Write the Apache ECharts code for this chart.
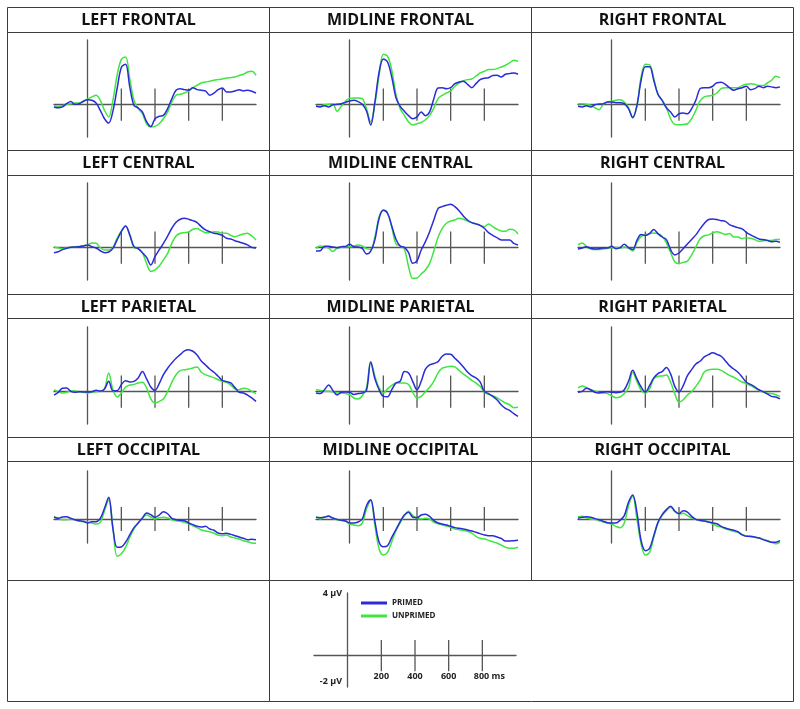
<!DOCTYPE html>
<html><head><meta charset="utf-8">
<script src="https://cdn.jsdelivr.net/npm/echarts@6/dist/echarts.min.js"></script>
<style>html,body{margin:0;padding:0;background:#fff}#c{width:800px;height:709px}</style>
</head><body><div id="c"></div><script>
const times = [-200,-175,-150,-125,-100,-75,-50,-25,0,25,50,75,100,125,150,175,200,225,250,275,300,325,350,375,400,425,450,475,500,525,550,575,600,625,650,675,700,725,750,775,800,825,850,875,900,925,950,975,1000];
const tickTimes = [200,400,600,800];
const timeLabels = ['200','400','600','800 ms'];
const scaleLabels = ['4 µV','-2 µV'];
const seriesNames = ['PRIMED','UNPRIMED'];
const panelTitles = ['LEFT FRONTAL','MIDLINE FRONTAL','RIGHT FRONTAL','LEFT CENTRAL','MIDLINE CENTRAL','RIGHT CENTRAL','LEFT PARIETAL','MIDLINE PARIETAL','RIGHT PARIETAL','LEFT OCCIPITAL','MIDLINE OCCIPITAL','RIGHT OCCIPITAL'];

const leftFrontalPrimed = [-0.14,-0.19,-0.14,0.06,0.19,0.02,0.06,0.21,0.31,0.27,0.1,-0.35,-0.87,-1.14,-0.4,1.0,2.3,2.5,1.1,-0.05,-0.2,-0.45,-1.05,-1.35,-0.87,-0.72,-0.66,-0.25,0.37,0.89,0.99,0.93,0.89,1.05,0.93,0.89,0.85,0.58,0.72,0.93,1.03,0.79,0.79,0.85,0.93,0.85,0.89,0.83,0.72];
const leftFrontalUnprimed = [-0.06,-0.1,-0.06,0.02,0.06,0.1,0.1,0.21,0.35,0.48,0.58,0.27,-0.35,-0.76,0.27,1.82,2.8,2.95,1.61,0.27,-0.25,-0.56,-1.18,-1.38,-1.34,-1.18,-0.87,-0.45,0.17,0.58,0.64,0.72,0.85,1.05,1.2,1.34,1.4,1.45,1.51,1.55,1.59,1.65,1.67,1.71,1.8,1.88,2.02,2.07,1.82];
const midlineFrontalPrimed = [-0.1,-0.14,-0.06,-0.14,0,0.02,0.06,0.14,0.23,0.27,0.19,0.02,-0.39,-1.26,0.17,2.02,2.83,2.64,1.71,0.43,-0.1,-0.41,-0.68,-0.87,-0.76,-0.45,-0.68,-0.45,0.37,1.03,1.05,0.99,1.05,1.3,1.4,1.45,1.26,1.05,1.3,1.55,1.63,1.67,1.8,1.82,1.71,1.88,1.92,1.96,1.88];
const midlineFrontalUnprimed = [-0.04,-0.1,0,0.02,0.06,-0.41,-0.1,0.23,0.39,0.41,0.41,0.37,-0.25,-1.07,0.06,1.82,3.12,3.0,2.13,0.64,-0.25,-0.66,-1.07,-1.26,-1.18,-1.1,-0.93,-0.66,-0.21,0.37,0.58,0.72,0.85,1.14,1.34,1.47,1.55,1.59,1.76,1.96,2.07,2.17,2.17,2.23,2.33,2.44,2.58,2.75,2.69];
const rightFrontalPrimed = [-0.1,-0.14,-0.06,-0.14,0,0.04,0.06,0.17,0.17,0.12,0.12,0.06,-0.25,-0.81,-0.04,1.51,2.35,2.35,1.51,0.64,0.27,-0.19,-0.45,-0.76,-0.56,-0.52,-0.56,-0.25,0.27,0.99,1.05,1.05,1.14,1.36,1.38,1.26,1.05,0.89,0.99,1.05,1.14,0.93,0.99,1.14,1.05,1.14,1.1,1.05,1.1];
const rightFrontalUnprimed = [0.06,0.06,0.02,-0.04,-0.19,-0.31,0.02,0.17,0.21,0.27,0.31,0.17,-0.19,-0.76,-0.1,1.71,2.5,2.48,1.61,0.64,0.27,-0.19,-0.87,-1.22,-1.24,-1.22,-1.18,-0.87,-0.35,0.23,0.48,0.54,0.58,0.72,0.99,1.05,1.05,1.05,1.05,1.18,1.26,1.3,1.26,1.18,1.18,1.34,1.51,1.76,1.67];
const leftCentralPrimed = [-0.31,-0.25,-0.12,-0.04,0.02,0.04,0.06,0.1,0.17,0.06,-0.02,-0.19,-0.31,-0.27,-0.04,0.48,0.99,1.34,0.79,0.06,-0.06,-0.31,-0.6,-1.07,-0.56,-0.14,0.27,0.72,1.2,1.57,1.76,1.82,1.76,1.67,1.55,1.3,1.1,0.99,0.89,0.85,0.76,0.58,0.54,0.43,0.35,0.27,0.17,0.02,-0.02];
const leftCentralUnprimed = [0.06,-0.02,-0.06,-0.02,0.02,0.06,0.08,0.12,0.17,0.29,0.27,0,-0.14,-0.14,0.02,0.58,1.03,1.34,0.79,0.02,-0.06,-0.31,-0.97,-1.47,-1.38,-1.14,-0.76,-0.35,0.27,0.72,0.89,0.93,0.97,1.14,1.18,1.05,0.93,0.93,0.99,0.97,0.89,0.89,0.76,0.68,0.76,0.85,0.89,0.72,0.48];
const midlineCentralPrimed = [-0.21,-0.19,0.08,0.08,0.04,0,0.06,0.08,0.21,0.06,0.04,-0.04,-0.39,-0.21,0.5,1.82,2.31,2.13,1.34,0.52,0.1,0.02,-0.31,-0.97,-0.81,-0.14,0.37,0.99,1.71,2.42,2.54,2.62,2.69,2.54,2.29,1.96,1.71,1.55,1.47,1.38,1.2,0.93,0.76,0.62,0.48,0.48,0.48,0.27,0.17];
const midlineCentralUnprimed = [-0.04,0.1,0.06,-0.02,-0.23,-0.04,0.02,0.06,0.06,0.1,0.17,0.1,-0.06,-0.1,0.68,1.92,2.33,2.13,1.26,0.23,0.1,-0.08,-1.18,-1.9,-1.88,-1.63,-1.38,-0.97,-0.21,0.64,1.2,1.51,1.65,1.71,1.82,1.76,1.65,1.55,1.47,1.38,1.3,1.47,1.3,1.14,1.03,1.01,1.14,1.1,0.85];
const rightCentralPrimed = [-0.08,-0.02,0.06,-0.04,-0.08,-0.06,-0.02,-0.02,0.08,-0.06,0,0.21,0,-0.12,0.45,0.81,0.76,0.87,1.12,0.87,0.66,0.5,-0.12,-0.45,-0.33,-0.06,0.23,0.5,0.79,1.16,1.49,1.74,1.78,1.74,1.67,1.63,1.43,1.32,1.24,1.16,0.95,0.79,0.66,0.54,0.5,0.45,0.37,0.39,0.33];
const rightCentralUnprimed = [0.19,0.29,0.08,-0.08,-0.12,-0.12,-0.08,-0.04,0,0.02,-0.04,0.04,-0.04,-0.21,0.33,0.7,0.79,0.87,0.91,0.85,0.7,0.29,-0.29,-0.87,-0.99,-0.91,-0.83,-0.45,0.04,0.54,0.74,0.79,0.91,0.99,0.91,0.81,0.87,0.66,0.66,0.56,0.62,0.58,0.5,0.39,0.43,0.45,0.45,0.5,0.5];
const leftParietalPrimed = [-0.21,-0.04,0.21,0.23,0.02,-0.04,0,-0.02,-0.02,0,0.08,0.04,0.17,0.64,0.06,0.06,0.43,0.68,0.6,0.64,0.85,1.24,0.79,0.29,0.08,0.5,1.05,1.45,1.78,2.07,2.29,2.52,2.6,2.5,2.27,1.9,1.65,1.4,1.2,0.95,0.7,0.62,0.54,0.25,-0.04,-0.08,-0.21,-0.39,-0.6];
const leftParietalUnprimed = [0.12,0,-0.08,-0.04,0.06,0.04,0,-0.04,-0.08,-0.04,0,0.02,0.17,1.16,0.12,-0.33,-0.08,0.29,0.41,0.45,0.54,0.58,0.23,-0.45,-0.7,-0.6,-0.45,0,0.58,1.05,1.3,1.36,1.4,1.47,1.53,1.2,1.05,0.95,0.87,0.74,0.64,0.58,0.41,0.17,0.12,0.21,0.17,0.02,-0.12];
const midlineParietalPrimed = [-0.08,-0.12,0.12,0.41,0.08,-0.21,-0.04,-0.02,-0.04,-0.17,-0.12,-0.08,0.08,1.82,0.79,0.12,-0.29,-0.31,0.12,0.54,0.64,1.24,1.16,0.62,0.12,0.64,1.4,1.65,1.74,1.86,2.19,2.33,2.31,2.07,1.82,1.53,1.22,0.99,0.85,0.6,0.02,-0.12,-0.29,-0.5,-0.81,-1.03,-1.16,-1.36,-1.53];
const midlineParietalUnprimed = [0.12,0.08,0.02,0.02,0,-0.08,-0.08,-0.12,-0.19,-0.39,-0.45,-0.25,0.23,1.86,0.95,0.23,-0.08,0.17,0.39,0.54,0.54,0.54,0.45,-0.04,-0.39,-0.29,0,0.27,0.64,1.16,1.45,1.53,1.57,1.53,1.32,1.1,0.91,0.7,0.54,0.33,-0.02,-0.17,-0.25,-0.37,-0.54,-0.7,-0.81,-0.99,-0.97];
const rightParietalPrimed = [-0.04,0.02,0.21,0.12,-0.04,-0.08,-0.04,0,-0.04,-0.06,-0.04,0.12,0.64,1.32,0.79,0.29,-0.02,0.37,0.85,1.12,1.24,1.49,1.1,0.33,-0.02,0.37,0.99,1.36,1.71,1.88,2.15,2.29,2.4,2.31,2.19,1.92,1.61,1.4,1.2,0.91,0.58,0.45,0.29,0.12,0,-0.14,-0.29,-0.33,-0.45];
const rightParietalUnprimed = [0.23,0.35,0.25,0.12,0.04,-0.06,-0.08,-0.12,-0.25,-0.37,-0.33,-0.12,0.23,1.2,0.64,0.08,-0.08,0.17,0.79,0.95,0.97,1.03,0.58,-0.12,-0.66,-0.5,-0.21,0,0.33,0.7,1.22,1.36,1.38,1.38,1.32,1.16,1.01,0.89,0.74,0.6,0.5,0.37,0.23,0.08,-0.02,-0.08,-0.12,-0.19,-0.29];
const leftOccipitalPrimed = [0.14,0.06,0.17,0.19,0.06,-0.06,-0.14,-0.19,-0.33,-0.22,-0.22,0.06,0.89,1.81,-0.8,-2.36,-2.33,-1.94,-1.33,-0.72,-0.33,0.08,0.5,0.36,0.14,0.33,0.61,0.44,0.06,-0.06,-0.11,-0.14,-0.33,-0.47,-0.61,-0.67,-0.61,-0.83,-0.94,-1.17,-1.22,-1.19,-1.28,-1.39,-1.5,-1.61,-1.72,-1.69,-1.72];
const leftOccipitalUnprimed = [0.22,0.06,-0.06,-0.06,0,-0.08,-0.17,-0.22,-0.28,-0.33,-0.42,-0.28,0.69,1.61,-0.7,-3.1,-2.9,-2.36,-1.53,-0.83,-0.33,0.06,0.33,0.17,0,0.11,0.14,0.08,-0.06,-0.14,-0.19,-0.28,-0.39,-0.56,-0.72,-0.92,-1,-1.06,-1.19,-1.33,-1.39,-1.33,-1.5,-1.58,-1.67,-1.81,-1.89,-2,-2.03];
const midlineOccipitalPrimed = [0.14,0.11,0.14,0.22,0.08,-0.03,-0.11,-0.17,-0.33,-0.33,-0.25,0,1.11,1.61,-0.22,-1.94,-2.31,-2.22,-1.53,-0.89,-0.22,0.33,0.56,0.14,0.11,0.33,0.39,0.22,-0.14,-0.33,-0.42,-0.5,-0.61,-0.72,-0.78,-0.83,-0.92,-1,-1.11,-1.22,-1.33,-1.39,-1.39,-1.5,-1.61,-1.83,-1.83,-1.81,-1.78];
const midlineOccipitalUnprimed = [0.19,0,0.17,0.28,0.06,-0.06,-0.11,-0.19,-0.42,-0.5,-0.56,-0.33,0.83,1.53,-0.56,-2.5,-3,-2.78,-1.89,-0.97,-0.33,0.28,0.64,0.28,0.06,0,0.06,0,-0.28,-0.39,-0.5,-0.58,-0.69,-0.83,-0.89,-0.94,-1.03,-1.17,-1.44,-1.61,-1.67,-1.78,-1.89,-2,-2.17,-2.36,-2.44,-2.44,-2.36];
const rightOccipitalPrimed = [0.06,0.14,0.19,0.14,0.03,-0.06,-0.19,-0.31,-0.33,-0.33,-0.11,0.28,1.39,2,0.56,-1.81,-2.64,-2.44,-1.39,-0.28,0.36,0.78,1.06,0.67,0.44,0.69,0.58,0.22,-0.03,-0.11,-0.17,-0.25,-0.33,-0.39,-0.61,-0.75,-0.86,-0.94,-1.06,-1.33,-1.44,-1.44,-1.5,-1.58,-1.72,-1.83,-1.94,-1.94,-1.81];
const rightOccipitalUnprimed = [0.19,0.22,0.11,0,-0.03,-0.14,-0.25,-0.33,-0.42,-0.61,-0.72,-0.33,1.11,1.89,0,-2.08,-3,-2.78,-1.53,-0.33,0.28,0.69,0.97,0.61,0.42,0.47,0.28,0.08,-0.03,-0.14,-0.14,-0.22,-0.42,-0.58,-0.67,-0.81,-0.92,-1.03,-1.11,-1.28,-1.42,-1.47,-1.53,-1.58,-1.69,-1.81,-1.94,-2.06,-1.94];

const panelData = [
  [leftFrontalPrimed, leftFrontalUnprimed],
  [midlineFrontalPrimed, midlineFrontalUnprimed],
  [rightFrontalPrimed, rightFrontalUnprimed],
  [leftCentralPrimed, leftCentralUnprimed],
  [midlineCentralPrimed, midlineCentralUnprimed],
  [rightCentralPrimed, rightCentralUnprimed],
  [leftParietalPrimed, leftParietalUnprimed],
  [midlineParietalPrimed, midlineParietalUnprimed],
  [rightParietalPrimed, rightParietalUnprimed],
  [leftOccipitalPrimed, leftOccipitalUnprimed],
  [midlineOccipitalPrimed, midlineOccipitalUnprimed],
  [rightOccipitalPrimed, rightOccipitalUnprimed]
];

const BLUE = '#2b2bd8', GREEN = '#3fe63f', AX = '#555', BORDER = '#3c3c3c';
const FONT = 'Open Sans';
const colX = [7.5, 269.5, 531.5, 793.5];
const rowTop = [7.5, 150.5, 294.5, 437.5, 580.5];
const titleBottom = [32.5, 175.5, 318.5, 461.5];
const pageBottom = 701.5;
const gridTop = [40, 183, 327, 471];
const gridH = [97, 97, 97, 72];

const grids = [], xAxes = [], yAxes = [], series = [], titles = [], graphics = [];

function axisPair(gi, showLabels) {
  xAxes.push({
    type: 'value', gridIndex: gi, min: -200, max: 1000, interval: 200,
    axisLine: { onZero: true, lineStyle: { color: AX, width: 1.3 } },
    axisTick: { show: false }, splitLine: { show: false },
    axisLabel: showLabels ? {
      show: true, margin: -15, color: '#222', fontFamily: FONT, fontWeight: 'bold', fontSize: 9,
      formatter: v => { const k = tickTimes.indexOf(v); if (k < 0) return ''; return k === 3 ? '{ms|' + timeLabels[k] + '}' : timeLabels[k]; },
      rich: { ms: { padding: [0, 0, 0, 14], color: '#222', fontFamily: FONT, fontWeight: 'bold', fontSize: 9 } }
    } : { show: false }
  });
  yAxes.push({
    type: 'value', gridIndex: gi, min: -2, max: 4, interval: 6,
    axisLine: { onZero: true, lineStyle: { color: AX, width: 1.3 } },
    axisTick: { show: false }, splitLine: { show: false },
    axisLabel: showLabels ? {
      show: true, margin: -28, color: '#222', fontFamily: FONT, fontWeight: 'bold', fontSize: 9,
      formatter: v => v === 4 ? scaleLabels[0] : (v === -2 ? '{lo|' + scaleLabels[1] + '}' : ''),
      rich: { lo: { padding: [0, 0, 12, 0], color: '#222', fontFamily: FONT, fontWeight: 'bold', fontSize: 9 } }
    } : { show: false }
  });
}

function tickSeries(gi) {
  series.push({
    type: 'custom', xAxisIndex: gi, yAxisIndex: gi, silent: true, clip: false, z: 1,
    data: tickTimes.map(t => [t, -1, 1]),
    renderItem: (p, api) => {
      const a = api.coord([api.value(0), api.value(1)]);
      const b = api.coord([api.value(0), api.value(2)]);
      return { type: 'line', shape: { x1: a[0], y1: a[1], x2: b[0], y2: b[1] }, style: { stroke: AX, lineWidth: 1.3 } };
    }
  });
}

panelData.forEach((pair, i) => {
  const r = Math.floor(i / 3), c = i % 3;
  grids.push({ left: Math.round(colX[c]) + 46, top: gridTop[r], width: 202, height: gridH[r], outerBoundsMode: 'none' });
  axisPair(i, false);
  tickSeries(i);
  [1, 0].forEach(s => {
    series.push({
      type: 'line', name: seriesNames[s], xAxisIndex: i, yAxisIndex: i,
      data: times.map((t, k) => [t, pair[s][k]]),
      showSymbol: false, smooth: 0.35, clip: false, z: 3 + (s === 0 ? 1 : 0),
      color: s === 0 ? BLUE : GREEN,
      lineStyle: { width: 1.5, color: s === 0 ? BLUE : GREEN },
      emphasis: { disabled: true }
    });
  });
  titles.push({
    text: panelTitles[i], left: (colX[c] + colX[c + 1]) / 2, top: rowTop[r] + 2.5, textAlign: 'center', padding: 0,
    textStyle: { fontFamily: FONT, fontWeight: 'bold', fontSize: 16, lineHeight: 20, color: '#111' }
  });
  graphics.push({ type: 'rect', silent: true, shape: { x: colX[c], y: rowTop[r], width: colX[c + 1] - colX[c], height: titleBottom[r] - rowTop[r] }, style: { fill: null, stroke: BORDER, lineWidth: 1 } });
  graphics.push({ type: 'rect', silent: true, shape: { x: colX[c], y: titleBottom[r], width: colX[c + 1] - colX[c], height: rowTop[r + 1] - titleBottom[r] }, style: { fill: null, stroke: BORDER, lineWidth: 1 } });
});

// scale / legend panel
grids.push({ left: 314, top: 593, width: 202, height: 94, outerBoundsMode: 'none' });
axisPair(12, true);
tickSeries(12);
graphics.push({ type: 'rect', silent: true, shape: { x: colX[0], y: rowTop[4], width: colX[1] - colX[0], height: pageBottom - rowTop[4] }, style: { fill: null, stroke: BORDER, lineWidth: 1 } });
graphics.push({ type: 'rect', silent: true, shape: { x: colX[1], y: rowTop[4], width: colX[3] - colX[1], height: pageBottom - rowTop[4] }, style: { fill: null, stroke: BORDER, lineWidth: 1 } });

const chart = echarts.init(document.getElementById('c'), null, { renderer: 'canvas' });
chart.setOption({
  backgroundColor: '#fff',
  animation: false,
  title: titles,
  legend: {
    data: seriesNames, orient: 'vertical', left: 361, top: 599, itemGap: 5,
    itemWidth: 26, itemHeight: 3, icon: 'rect', padding: 0,
    textStyle: { fontFamily: FONT, fontWeight: 'bold', fontSize: 8, color: '#222', padding: [0, 0, 0, 0] }
  },
  grid: grids, xAxis: xAxes, yAxis: yAxes, series: series,
  graphic: graphics
});
</script></body></html>
